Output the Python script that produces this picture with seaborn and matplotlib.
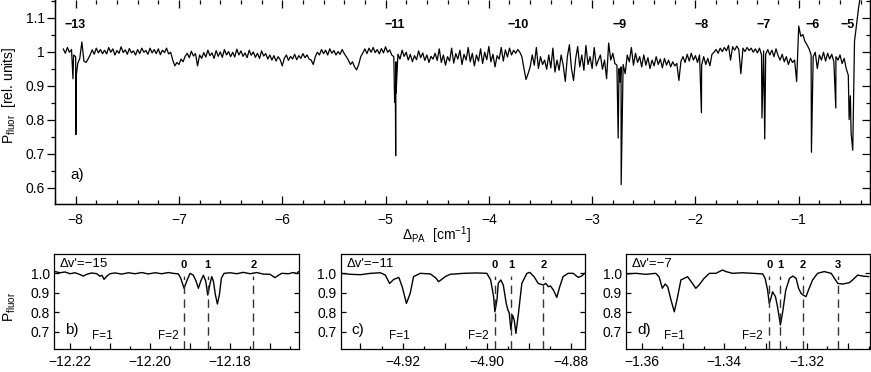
import numpy as np
import pandas as pd
import matplotlib
matplotlib.use("Agg")
import matplotlib.pyplot as plt
import seaborn as sns
from matplotlib.ticker import MultipleLocator, FuncFormatter

# panel a) overview scan, one value every 0.02 cm-1 starting at -8.12
scan_start = -8.12
scan_step = 0.02
scan_y = [
    1.008, 0.995, 1.012, 0.998, 1.006, 0.990, 0.985, 0.965, 0.980, 1.028, 0.972, 0.968, 0.978, 0.990, 1.005, 0.992, 1.010, 0.996, 1.006, 0.994,
    1.004, 0.993, 1.012, 0.998, 1.008, 0.990, 1.003, 0.995, 1.014, 0.997, 1.005, 0.992, 1.009, 0.996, 1.002, 0.990, 1.006, 0.994, 1.010, 0.998,
    1.003, 0.992, 1.010, 0.996, 1.006, 0.994, 1.008, 0.991, 1.004, 0.997, 1.010, 0.993, 0.998, 0.975, 0.958, 0.968, 0.962, 0.978, 0.970, 0.986,
    0.995, 0.982, 1.001, 0.987, 0.994, 0.958, 0.990, 0.980, 0.997, 0.984, 1.004, 0.988, 0.996, 0.980, 1.003, 0.986, 0.999, 0.983, 1.006, 0.990,
    1.000, 0.985, 0.998, 0.984, 1.007, 0.990, 1.002, 0.986, 0.996, 0.982, 1.004, 0.989, 0.999, 0.983, 0.995, 0.980, 1.002, 0.987, 0.994, 0.978,
    0.990, 0.975, 0.988, 0.972, 0.985, 0.976, 0.958, 0.980, 0.990, 0.974, 0.986, 0.978, 0.992, 0.976, 0.988, 0.980, 0.994, 0.982, 0.990, 0.978,
    0.975, 0.962, 0.985, 0.998, 0.990, 1.006, 0.994, 1.004, 0.990, 1.008, 0.995, 1.003, 0.990, 1.000, 0.992, 1.006, 0.994, 0.985, 0.975, 0.962,
    0.970, 0.955, 0.946, 0.962, 0.985, 0.996, 1.008, 0.994, 1.010, 0.998, 1.012, 0.997, 1.006, 0.993, 1.009, 0.996, 1.014, 0.998, 1.005, 0.990,
    0.985, 0.970, 0.992, 0.978, 1.004, 0.986, 0.998, 0.975, 0.992, 0.970, 0.988, 0.976, 1.002, 0.982, 0.996, 0.974, 0.990, 0.968, 0.986, 0.978,
    0.995, 0.974, 1.008, 0.968, 0.990, 0.960, 0.985, 0.972, 1.010, 0.966, 0.994, 0.978, 1.004, 0.962, 0.992, 0.975, 1.012, 0.970, 0.995, 0.958,
    0.990, 0.972, 1.008, 0.965, 0.998, 0.976, 1.015, 0.970, 0.992, 0.955, 0.988, 0.978, 1.012, 0.972, 1.005, 0.984, 1.010, 0.990, 1.004, 0.995,
    1.006, 0.998, 0.985, 0.950, 0.918, 0.935, 0.955, 0.990, 0.960, 1.012, 0.950, 0.985, 0.962, 0.975, 0.948, 0.990, 0.952, 1.010, 0.940, 0.975,
    0.945, 0.990, 0.960, 0.912, 0.985, 1.020, 0.950, 0.915, 0.978, 1.015, 0.955, 0.990, 0.945, 1.018, 0.962, 0.985, 0.950, 1.012, 0.958, 0.975,
    0.990, 0.948, 0.975, 0.920, 1.025, 0.975, 0.995, 0.965, 0.960, 0.950, 0.955, 0.962, 0.935, 0.990, 0.970, 1.012, 0.960, 0.995, 0.968, 0.985,
    0.955, 0.990, 0.960, 0.982, 0.950, 0.975, 0.958, 0.985, 0.962, 0.978, 0.952, 0.980, 0.960, 0.975, 0.955, 0.970, 0.958, 0.965, 0.915, 0.972,
    0.985, 0.968, 0.992, 0.972, 0.995, 0.975, 0.988, 0.968, 0.990, 0.960, 0.985, 0.962, 0.980, 0.958, 0.992, 0.998, 1.006, 0.995, 1.010, 1.000,
    1.012, 1.002, 1.018, 0.975, 1.014, 1.004, 1.016, 1.006, 0.935, 1.010, 1.000, 1.012, 1.003, 1.010, 0.998, 1.008, 0.996, 1.010, 0.990, 1.002,
    0.992, 1.006, 0.990, 1.004, 0.985, 1.008, 0.988, 0.975, 0.992, 0.970, 0.985, 0.962, 0.980, 0.968, 0.975, 0.912, 1.075, 1.045, 1.050, 1.030,
    1.020, 1.008, 0.990, 0.985, 0.998, 0.950, 0.990, 0.975, 0.998, 0.972, 0.995, 0.978, 0.992, 0.970, 0.985, 0.975, 0.990, 0.965, 0.980, 0.950,
    0.930, 0.870, 0.720, 1.030, 1.080, 1.130, 1.170,
]

# sharp absorption lines sitting on the scan
line_x = [-8.026, -7.998, -7.994, -4.912, -4.905, -4.902, -4.898, -2.748, -2.730, -2.719,
          -1.942, -1.356, -1.329, -0.877, -0.641, -0.512, -0.493, -0.477]
line_y = [0.920, 0.756, 0.930, 0.850, 0.900, 0.694, 0.878, 0.746, 0.910, 0.609,
          0.820, 0.805, 0.743, 0.704, 0.834, 0.800, 0.760, 0.710]

band_x = [-8.01, -4.91, -3.72, -2.73, -1.94, -1.34, -0.87, -0.53]
band_lab = ["\u221213", "\u221211", "\u221210", "\u22129", "\u22128", "\u22127", "\u22126", "\u22125"]

# panel b) dv' = -15
b_x = [-12.22375, -12.2225, -12.22125, -12.22, -12.21875, -12.21767, -12.21667, -12.21583, -12.21458, -12.21333,
       -12.2125, -12.212, -12.2115, -12.21083, -12.21, -12.20875, -12.20708, -12.20542, -12.20375, -12.20208,
       -12.20042, -12.19875, -12.19708, -12.19542, -12.19417, -12.19292, -12.19233, -12.1915, -12.19083, -12.19,
       -12.18917, -12.1885, -12.18792, -12.18733, -12.18667, -12.18608, -12.18558, -12.18508, -12.18458, -12.18417,
       -12.18367, -12.18317, -12.18267, -12.18217, -12.1815, -12.18, -12.17833, -12.17667, -12.175, -12.17333,
       -12.17167, -12.17, -12.16933, -12.16875, -12.16792, -12.16708, -12.16542, -12.16417, -12.16333, -12.16292]
b_y = [1.009, 1.003, 1.007, 0.998, 1.003, 0.995, 0.986, 0.995, 1.002, 0.998,
       0.985, 0.990, 0.969, 0.985, 0.998, 1.002, 0.996, 1.003, 0.998, 1.004,
       0.997, 1.003, 0.998, 1.004, 1.000, 0.997, 0.975, 0.923, 0.960, 1.000,
       0.990, 0.960, 0.923, 0.960, 0.990, 0.960, 0.888, 0.940, 0.983, 0.960,
       0.890, 0.842, 0.890, 0.975, 1.000, 1.003, 0.998, 1.005, 0.998, 1.004,
       0.996, 0.995, 0.985, 0.978, 0.990, 1.000, 0.998, 1.004, 0.999, 1.009]
b_hfs = [-12.1915, -12.1856, -12.1742]
b_hfs_lab = ["0", "1", "2"]
b_f = [-12.2119, -12.1955]

# panel c) dv' = -11
c_x = [-4.9347, -4.9324, -4.9300, -4.9276, -4.9253, -4.9241, -4.9231, -4.9221, -4.9209, -4.9201,
       -4.9191, -4.9182, -4.9174, -4.9158, -4.9134, -4.9120, -4.9115, -4.9107, -4.9099, -4.9087,
       -4.9055, -4.9024, -4.9000, -4.8991, -4.8984, -4.8981, -4.8976, -4.8973, -4.8967, -4.8961,
       -4.8954, -4.8950, -4.8947, -4.8943, -4.8939, -4.8935, -4.8931, -4.8925, -4.8917, -4.8905,
       -4.8898, -4.8888, -4.8878, -4.8866, -4.8860, -4.8854, -4.8849, -4.8842, -4.8834, -4.8827,
       -4.8819, -4.8807, -4.8795, -4.8783, -4.8775, -4.8768]
c_y = [1.000, 0.995, 0.993, 1.000, 1.003, 0.991, 0.948, 0.969, 0.979, 0.931,
       0.845, 0.897, 0.983, 1.000, 0.997, 0.974, 0.957, 0.969, 0.983, 0.995,
       1.000, 1.002, 1.000, 0.966, 0.880, 0.802, 0.863, 0.948, 0.966, 0.940,
       0.845, 0.811, 0.797, 0.711, 0.785, 0.759, 0.691, 0.794, 0.948, 1.000,
       1.005, 0.983, 0.948, 0.940, 0.948, 0.931, 0.935, 0.914, 0.876, 0.931,
       0.983, 1.000, 1.000, 0.979, 0.986, 1.000]
c_hfs = [-4.8981, -4.8943, -4.8866]
c_hfs_lab = ["0", "1", "2"]
c_f = [-4.9208, -4.9021]

# panel d) dv' = -7
d_x = [-1.3638, -1.3614, -1.3590, -1.3566, -1.3558, -1.3550, -1.3543, -1.3537, -1.3529, -1.3521,
       -1.3513, -1.3505, -1.3497, -1.3489, -1.3477, -1.3469, -1.3461, -1.3449, -1.3436, -1.3420,
       -1.3412, -1.3404, -1.3396, -1.3380, -1.3356, -1.3331, -1.3307, -1.3301, -1.3295, -1.3291,
       -1.3287, -1.3283, -1.3276, -1.3271, -1.3264, -1.3259, -1.3251, -1.3242, -1.3234, -1.3226,
       -1.3220, -1.3214, -1.3209, -1.3202, -1.3196, -1.3186, -1.3174, -1.3158, -1.3141, -1.3133,
       -1.3125, -1.3113, -1.3097, -1.3089, -1.3077, -1.3065, -1.3050]
d_y = [0.997, 1.000, 0.995, 1.000, 0.983, 0.923, 0.945, 0.931, 0.863, 0.802,
       0.880, 0.966, 0.974, 0.983, 0.948, 0.923, 0.940, 0.974, 1.000, 1.000,
       1.009, 1.017, 1.009, 1.000, 1.003, 1.000, 0.997, 0.974, 0.914, 0.845,
       0.871, 0.905, 0.880, 0.828, 0.734, 0.794, 0.914, 0.974, 0.986, 0.974,
       0.923, 0.897, 0.888, 0.880, 0.914, 0.966, 1.000, 1.009, 1.000, 0.974,
       0.948, 0.945, 0.952, 0.966, 0.991, 0.986, 0.983]
d_hfs = [-1.3291, -1.3264, -1.3209, -1.3125]
d_hfs_lab = ["0", "1", "2", "3"]
d_f = [-1.3521, -1.3332]

sns.set_theme(style="ticks", rc={
    "axes.edgecolor": "black", "axes.linewidth": 0.9, "text.color": "black",
    "axes.labelcolor": "black", "xtick.color": "black", "ytick.color": "black",
})
plt.rcParams["font.family"] = ["Liberation Sans", "DejaVu Sans"]
plt.rcParams["mathtext.fontset"] = "custom"
plt.rcParams["mathtext.rm"] = "Liberation Sans"
plt.rcParams["mathtext.it"] = "Liberation Sans:italic"
plt.rcParams["mathtext.bf"] = "Liberation Sans:bold"

W, H = 871, 372
fig = plt.figure(figsize=(W / 100, H / 100), dpi=100)


def px_axes(l, t, r, b):
    return fig.add_axes([l / W, 1 - b / H, (r - l) / W, (b - t) / H])


# ---------------- top panel
ax = px_axes(55, 0, 870, 204.3)
scan = pd.DataFrame({"x": scan_start + scan_step * np.arange(len(scan_y)), "y": scan_y})
top = pd.concat([scan, pd.DataFrame({"x": line_x, "y": line_y})], ignore_index=True)
sns.lineplot(data=top, x="x", y="y", ax=ax, color="black", lw=0.9, estimator=None, sort=True)
ax.set_xlim(-8.2, -0.31)
ax.set_ylim(0.551, 1.1516)
ax.spines["top"].set_visible(False)
ax.xaxis.set_major_locator(MultipleLocator(1))
ax.xaxis.set_minor_locator(MultipleLocator(0.2))
ax.yaxis.set_major_locator(MultipleLocator(0.1))
ax.yaxis.set_minor_locator(MultipleLocator(0.05))
ax.yaxis.set_major_formatter(FuncFormatter(lambda v, p: f"{v:g}"))
ax.tick_params(axis="x", which="both", direction="in", top=True, bottom=True, labelsize=10, pad=6)
ax.tick_params(axis="x", which="major", length=5.5, width=0.9)
ax.tick_params(axis="x", which="minor", length=3, width=0.9)
ax.tick_params(axis="y", which="both", direction="out", left=True, right=False, labelsize=10, pad=2)
ax.tick_params(axis="y", which="major", length=5.5, width=0.9)
ax.tick_params(axis="y", which="minor", length=3, width=0.9)
rax = ax.twinx()
rax.set_ylim(ax.get_ylim())
rax.spines["top"].set_visible(False)
rax.yaxis.set_major_locator(MultipleLocator(0.1))
rax.yaxis.set_minor_locator(MultipleLocator(0.05))
rax.tick_params(axis="y", which="both", direction="in", labelright=False, width=0.9)
rax.tick_params(axis="y", which="major", length=5.5)
rax.tick_params(axis="y", which="minor", length=3)
rax.set_ylabel("")

for bx, lab in zip(band_x, band_lab):
    ax.text(bx, 1.078, lab, ha="center", va="center", fontsize=9, fontweight="bold")
ax.text(-7.987, 0.638, "a)", ha="center", va="center", fontsize=11)
ax.set_ylabel("")
ax.set_xlabel("\u0394$_{\\rm PA}$  [cm$^{-1}$]", fontsize=10)
ax.xaxis.set_label_coords(0.4687, -0.096)
fig.text(9.5 / W, 1 - 95 / H, "P$_{\\rm fluor}$  [rel. units]", rotation=90,
         ha="center", va="center", fontsize=10)

# ---------------- bottom panels
panels = [
    (54, 299.3, b_x, b_y, (-12.224, -12.1627), b_hfs, b_hfs_lab, b_f, "b)", "\u0394v'=\u221215"),
    (340.7, 585, c_x, c_y, (-4.9347, -4.8767), c_hfs, c_hfs_lab, c_f, "c)", "\u0394v'=\u221211"),
    (626, 870, d_x, d_y, (-1.3638, -1.3047), d_hfs, d_hfs_lab, d_f, "d)", "\u0394v'=\u22127"),
]
ylo, yhi = 0.609, 1.0995
for l, r, xs, ys, xlim, hfs, hlab, fpos, tag, dv in panels:
    a = px_axes(l, 254, r, 349.3)
    sns.lineplot(x=xs, y=ys, ax=a, color="black", lw=1.0, estimator=None, sort=False)
    a.vlines(hfs, ylo, 0.985, colors="0.2", linestyles=(0, (6, 4)), lw=1.0)
    for hx, hl in zip(hfs, hlab):
        a.text(hx, 1.041, hl, ha="center", va="center", fontsize=8, fontweight="bold")
    for fx, fl in zip(fpos, ["F=1", "F=2"]):
        a.text(fx, 0.675, fl, ha="center", va="center", fontsize=8.5)
    a.text(0.045, 0.2, tag, transform=a.transAxes, ha="left", va="center", fontsize=11)
    a.text(0.024, 0.9, dv, transform=a.transAxes, ha="left", va="center", fontsize=9.5)
    a.set_xlim(*xlim)
    a.set_ylim(ylo, yhi)
    a.xaxis.set_major_locator(MultipleLocator(0.01))
    a.xaxis.set_minor_locator(MultipleLocator(0.005))
    a.xaxis.set_major_formatter(FuncFormatter(
        lambda v, p: f"{v:.2f}".replace("-", "\u2212") if round(v * 100) % 2 == 0 else ""))
    a.yaxis.set_major_locator(MultipleLocator(0.1))
    a.yaxis.set_major_formatter(FuncFormatter(lambda v, p: f"{v:.1f}"))
    a.tick_params(which="both", direction="in", left=True, right=True, bottom=True, top=False,
                  labelsize=10, width=0.9)
    a.tick_params(axis="x", which="major", length=4.5, pad=4)
    a.tick_params(axis="x", which="minor", length=2.5)
    a.tick_params(axis="y", which="major", length=3.5, pad=3)
    a.set_xlabel("")
    a.set_ylabel("")

fig.text(10 / W, 1 - 307 / H, "P$_{\\rm fluor}$", rotation=90, ha="center", va="center", fontsize=10)

fig.savefig("out.png", dpi=100)
